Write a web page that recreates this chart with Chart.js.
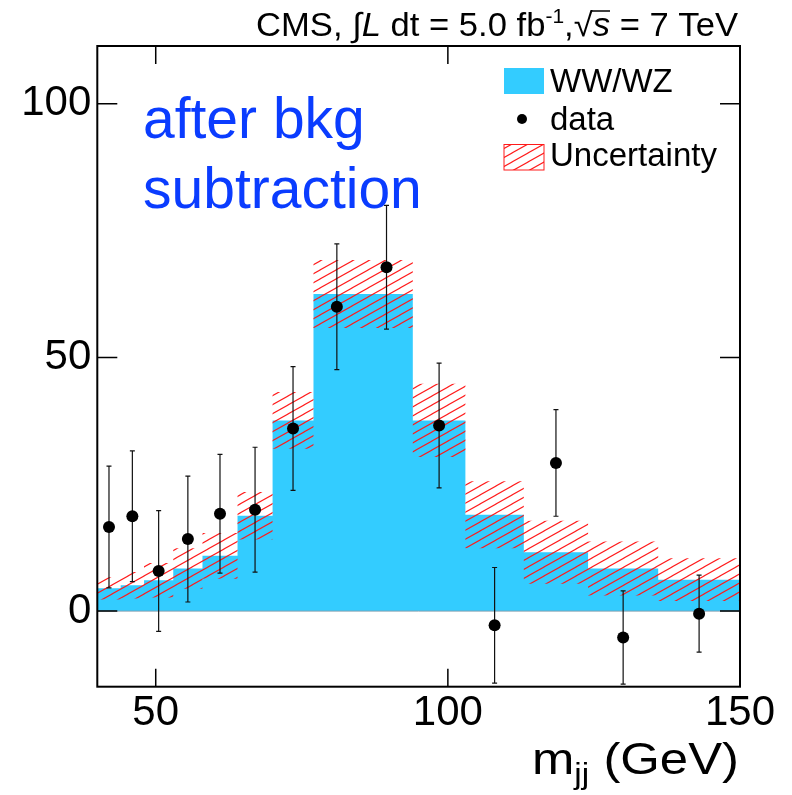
<!DOCTYPE html>
<html>
<head>
<meta charset="utf-8">
<script src="https://cdn.jsdelivr.net/npm/chart.js@4.4.1/dist/chart.umd.min.js"></script>
<style>
  html, body { margin: 0; padding: 0; background: #fff; }
  canvas { display: block; }
</style>
</head>
<body>
<canvas id="chart" width="792" height="795"></canvas>
<script>
// bin edges of the m_jj histogram (GeV)
const binEdges  = [40, 44, 48, 53, 58, 64, 70, 77, 85, 94, 103, 113, 124, 136, 150];
// WW/WZ expectation per bin
const mcValues  = [4.5, 5.1, 6.1, 8.4, 10.9, 18.8, 37.6, 62.5, 62.5, 37.6, 19.0, 11.6, 8.4, 6.2];
// uncertainty band edges per bin
const bandHigh  = [6.7, 7.7, 9.5, 12.4, 15.4, 23.5, 43.2, 69.2, 69.2, 44.8, 25.6, 17.8, 13.7, 10.4];
const bandLow   = [2.3, 2.5, 2.7, 4.4, 6.4, 14.1, 32.0, 55.8, 55.8, 30.4, 12.4, 5.4, 3.1, 2.0];
// data after background subtraction
const dataX     = [42, 46, 50.5, 55.5, 61, 67, 73.5, 81, 89.5, 98.5, 108, 118.5, 130, 143];
const dataY     = [16.6, 18.7, 7.9, 14.2, 19.2, 20.0, 36.0, 60.0, 67.8, 36.6, -2.8, 29.2, -5.2, -0.5];
const dataErr   = [12.0, 12.9, 11.9, 12.4, 11.7, 12.3, 12.2, 12.4, 12.2, 12.3, 11.4, 10.5, 9.2, 7.6];
// labelled ticks
const xTickLabels = [50, 100, 150];
const yTickLabels = [0, 50, 100];

const FONT = "'Liberation Sans', Arial, Helvetica, sans-serif";
const ctx = document.getElementById("chart").getContext("2d");

// histogram as a polyline: two points per bin
function histPoints(vals) {
  const pts = [];
  vals.forEach((v, i) => {
    pts.push({ x: binEdges[i], y: v });
    pts.push({ x: binEdges[i + 1], y: v });
  });
  return pts;
}

// red hatch like ROOT fill style 3354
function makeHatch() {
  const c = document.createElement("canvas");
  c.width = 16; c.height = 9;
  const g = c.getContext("2d");
  g.strokeStyle = "#ff1a1a";
  g.lineWidth = 1.1;
  [-16, 0, 16].forEach(off => {
    g.beginPath();
    g.moveTo(off - 16, 18);
    g.lineTo(off + 32, -9);
    g.stroke();
  });
  return ctx.createPattern(c, "repeat");
}
const hatch = makeHatch();

// text made of several runs (italic, superscript, ...)
function drawRuns(g, runs, xRight, baseline, targetW) {
  let w = 0;
  runs.forEach(r => { g.font = r.font; r.w = g.measureText(r.text).width; w += r.w; });
  const sx = targetW ? targetW / w : 1;
  g.save();
  g.translate(xRight - w * sx, baseline);
  g.scale(sx, 1);
  g.textAlign = "left";
  g.textBaseline = "alphabetic";
  let x = 0;
  runs.forEach(r => {
    g.font = r.font;
    g.fillText(r.text, x, r.dy || 0);
    if (r.over) {
      g.lineWidth = 1.5;
      g.beginPath();
      g.moveTo(x - 1, r.over);
      g.lineTo(x + r.w, r.over);
      g.stroke();
    }
    x += r.w;
  });
  g.restore();
}

const rootStyle = {
  id: "rootStyle",
  afterDatasetDraw(chart, args) {
    if (args.index !== 0) return;
    // thin line at zero
    const g = chart.ctx, a = chart.chartArea, y0 = chart.scales.y.getPixelForValue(0);
    g.save();
    g.strokeStyle = "#7f9fb0";
    g.lineWidth = 1;
    g.beginPath();
    g.moveTo(a.left, y0);
    g.lineTo(a.right, y0);
    g.stroke();
    g.restore();
  },
  beforeDatasetDraw(chart, args) {
    if (args.index !== 3) return;
    // error bars
    const g = chart.ctx, xs = chart.scales.x, ys = chart.scales.y;
    g.save();
    g.strokeStyle = "#111";
    g.lineWidth = 1.2;
    dataX.forEach((xv, i) => {
      const px = xs.getPixelForValue(xv);
      const top = ys.getPixelForValue(dataY[i] + dataErr[i]);
      const bot = ys.getPixelForValue(dataY[i] - dataErr[i]);
      g.beginPath();
      g.moveTo(px, top); g.lineTo(px, bot);
      g.moveTo(px - 2.5, top); g.lineTo(px + 2.5, top);
      g.moveTo(px - 2.5, bot); g.lineTo(px + 2.5, bot);
      g.stroke();
    });
    g.restore();
  },
  afterDraw(chart) {
    const g = chart.ctx, a = chart.chartArea, xs = chart.scales.x, ys = chart.scales.y;
    g.save();
    // frame
    g.strokeStyle = "#000";
    g.lineWidth = 2;
    g.strokeRect(a.left, a.top, a.right - a.left, a.bottom - a.top);
    // inner ticks on all four sides
    g.lineWidth = 1.5;
    g.beginPath();
    ys.ticks.forEach(t => {
      if (t.value <= ys.min || t.value >= ys.max) return;
      const py = ys.getPixelForValue(t.value), len = yTickLabels.includes(t.value) ? 20 : 11;
      g.moveTo(a.left, py); g.lineTo(a.left + len, py);
      g.moveTo(a.right, py); g.lineTo(a.right - len, py);
    });
    xs.ticks.forEach(t => {
      if (t.value <= xs.min || t.value >= xs.max) return;
      const px = xs.getPixelForValue(t.value), len = xTickLabels.includes(t.value) ? 18 : 9;
      g.moveTo(px, a.bottom); g.lineTo(px, a.bottom - len);
      g.moveTo(px, a.top); g.lineTo(px, a.top + len);
    });
    g.stroke();

    // header
    g.fillStyle = "#000";
    g.strokeStyle = "#000";
    const f = "33px " + FONT, fi = "italic 33px " + FONT;
    drawRuns(g, [
      { text: "CMS, ", font: f },
      { text: "\u222B", font: fi },
      { text: "L", font: fi },
      { text: " dt = 5.0 fb", font: f },
      { text: "-1", font: "20px " + FONT, dy: -13 },
      { text: ",", font: f },
      { text: "\u221A", font: f },
      { text: "s", font: fi, over: -25 },
      { text: " = 7 TeV", font: f }
    ], 738, 36, 482);

    // axis title
    drawRuns(g, [
      { text: "m", font: "44px " + FONT },
      { text: "jj", font: "29px " + FONT, dy: 10 },
      { text: " (GeV)", font: "44px " + FONT }
    ], 739, 774, 207);

    // annotation
    g.fillStyle = "#0a3cff";
    g.font = "57px " + FONT;
    g.textAlign = "left";
    g.textBaseline = "alphabetic";
    g.fillText("after bkg", 143, 138);
    g.fillText("subtraction", 143, 208);

    // legend
    g.fillStyle = "#33ccff";
    g.fillRect(504, 68, 40, 26);
    g.fillStyle = "#000";
    g.beginPath();
    g.arc(522, 119, 5, 0, Math.PI * 2);
    g.fill();
    g.fillStyle = hatch;
    g.fillRect(504, 144.5, 40, 25.5);
    g.strokeStyle = "#ff1a1a";
    g.lineWidth = 1;
    g.strokeRect(504, 144.5, 40, 25.5);
    g.fillStyle = "#000";
    g.font = "33px " + FONT;
    g.fillText("WW/WZ", 550, 92);
    g.fillText("data", 550, 130);
    g.fillText("Uncertainty", 550, 166);
    g.restore();
  }
};

new Chart(ctx, {
  type: "line",
  data: {
    datasets: [
      {
        label: "WW/WZ",
        data: histPoints(mcValues),
        borderWidth: 0,
        pointRadius: 0,
        backgroundColor: "#33ccff",
        fill: "origin",
        order: 4
      },
      {
        label: "band low",
        data: histPoints(bandLow),
        borderWidth: 0,
        pointRadius: 0,
        fill: false,
        order: 3
      },
      {
        label: "Uncertainty",
        data: histPoints(bandHigh),
        borderWidth: 0,
        pointRadius: 0,
        backgroundColor: hatch,
        fill: "-1",
        order: 2
      },
      {
        label: "data",
        data: dataX.map((x, i) => ({ x, y: dataY[i] })),
        showLine: false,
        pointRadius: 6,
        pointBackgroundColor: "#000",
        pointBorderColor: "#000",
        pointBorderWidth: 0,
        order: 1
      }
    ]
  },
  options: {
    responsive: false,
    animation: false,
    layout: { padding: { left: 0, top: 46, right: 52, bottom: 0 } },
    plugins: { legend: { display: false }, tooltip: { enabled: false } },
    scales: {
      x: {
        type: "linear",
        min: 40,
        max: 150,
        grid: { display: false, drawTicks: false },
        border: { display: false },
        afterFit: s => { s.height = 108.3; },
        ticks: {
          stepSize: 10,
          autoSkip: false,
          maxRotation: 0,
          includeBounds: false,
          padding: 2,
          color: "#000",
          font: { family: FONT, size: 42 },
          callback: v => xTickLabels.includes(v) ? v : null
        }
      },
      y: {
        min: -14.9,
        max: 111.4,
        grid: { display: false, drawTicks: false },
        border: { display: false },
        afterFit: s => { s.width = 97.3; },
        ticks: {
          stepSize: 10,
          autoSkip: false,
          includeBounds: false,
          padding: 6,
          color: "#000",
          font: { family: FONT, size: 42 },
          callback: v => yTickLabels.includes(v) ? v : null
        }
      }
    }
  },
  plugins: [rootStyle]
});
</script>
</body>
</html>
